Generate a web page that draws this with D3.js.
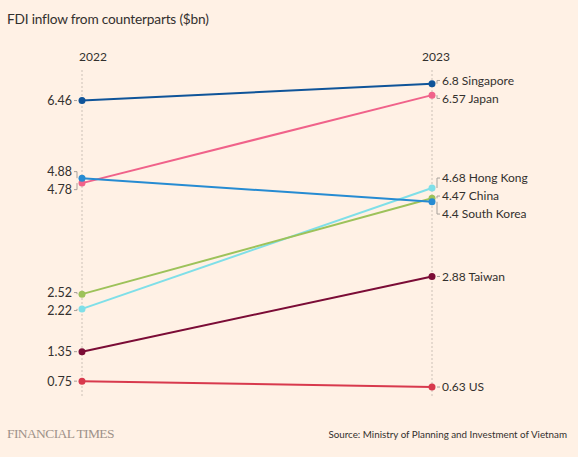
<!DOCTYPE html>
<html><head><meta charset="utf-8">
<script src="https://cdn.jsdelivr.net/npm/d3@7"></script>
<style>
html,body{margin:0;padding:0;background:#fff1e5;}
svg{display:block;font-family:"Lato","Noto Sans",sans-serif;}
</style></head>
<body><svg id="c" width="578" height="457"></svg>
<script>
const years = ["2022", "2023"];
const countries = ["Singapore", "Japan", "Hong Kong", "China", "South Korea", "Taiwan", "US"];
const values2022 = [6.46, 4.78, 2.22, 2.52, 4.88, 1.35, 0.75];
const values2023 = [6.8, 6.57, 4.68, 4.47, 4.4, 2.88, 0.63];
const colors = ["#0f5499", "#f0628a", "#7fdfe8", "#9dc25a", "#268bd2", "#7b0c36", "#d8394d"];

const svg = d3.select("#c");
const W = 578, H = 457;
svg.append("rect").attr("width", W).attr("height", H).attr("fill", "#fff1e5");

const x = d3.scalePoint().domain(years).range([82, 432]);
const y = d3.scaleLinear().domain([0, 7]).range([418, 74]);

const ink = "#33302e";
svg.append("text").attr("x", 7).attr("y", 24).attr("font-size", 13.7).attr("letter-spacing", "-0.2").attr("fill", ink)
  .text("FDI inflow from counterparts ($bn)");

svg.append("text").attr("x", x("2022") - 3).attr("y", 61).attr("font-size", 12).attr("fill", ink).text("2022");
svg.append("text").attr("x", x("2023") - 10).attr("y", 61).attr("font-size", 12).attr("fill", ink).text("2023");

years.forEach(yr => {
  svg.append("line").attr("x1", x(yr)).attr("x2", x(yr)).attr("y1", 70).attr("y2", 396)
    .attr("stroke", "#ccc1b7").attr("stroke-width", 1).attr("stroke-dasharray", "2,2");
});

const data = countries.map((c, i) => ({c, v0: values2022[i], v1: values2023[i], col: colors[i]}));

data.forEach(d => {
  svg.append("line").attr("x1", x("2022")).attr("y1", y(d.v0)).attr("x2", x("2023")).attr("y2", y(d.v1))
    .attr("stroke", d.col).attr("stroke-width", 2);
});
data.forEach(d => {
  svg.append("circle").attr("cx", x("2022")).attr("cy", y(d.v0)).attr("r", 3.5).attr("fill", d.col);
  svg.append("circle").attr("cx", x("2023")).attr("cy", y(d.v1)).attr("r", 3.5).attr("fill", d.col);
});

function dodge(items, gap) {
  items.sort((a, b) => a.py - b.py);
  let groups = items.map(it => ({members: [it]}));
  const place = g => {
    const mean = d3.mean(g.members, m => m.py);
    const n = g.members.length;
    g.members.forEach((m, k) => m.ly = mean + (k - (n - 1) / 2) * gap);
  };
  groups.forEach(place);
  let changed = true;
  while (changed) {
    changed = false;
    for (let i = 0; i < groups.length - 1; i++) {
      const a = groups[i], b = groups[i + 1];
      if (b.members[0].ly - a.members[a.members.length - 1].ly < gap) {
        a.members = a.members.concat(b.members);
        groups.splice(i + 1, 1);
        place(a);
        changed = true;
        break;
      }
    }
  }
  return items;
}

const left = dodge(data.map(d => ({py: y(d.v0), text: String(d.v0), d})), 18);
const right = dodge(data.map(d => ({py: y(d.v1), text: d.v1 + " " + d.c, d})), 18);

const connCol = "#a7a19b";
left.forEach(l => {
  const px = x("2022");
  svg.append("path").attr("d", `M${px - 5},${l.py}V${l.ly}H${px - 8}`)
    .attr("fill", "none").attr("stroke", connCol).attr("stroke-width", 1);
  svg.append("text").attr("x", px - 10).attr("y", l.ly).attr("dy", "0.35em")
    .attr("text-anchor", "end").attr("font-size", 12.5).attr("fill", ink).text(l.text);
});
right.forEach(l => {
  const px = x("2023");
  svg.append("path").attr("d", `M${px + 5},${l.py}V${l.ly}H${px + 8}`)
    .attr("fill", "none").attr("stroke", connCol).attr("stroke-width", 1);
  svg.append("text").attr("x", px + 10).attr("y", l.ly).attr("dy", "0.35em")
    .attr("font-size", 12).attr("fill", ink).text(l.text);
});

svg.append("text").attr("x", 7).attr("y", 438).attr("font-family", "'Liberation Serif','DejaVu Serif',serif")
  .attr("font-size", 13.5).attr("fill", "#9e928a").attr("letter-spacing", "-0.6").text("FINANCIAL TIMES");
svg.append("text").attr("x", 567).attr("y", 438).attr("text-anchor", "end")
  .attr("font-size", 9.8).attr("fill", ink).text("Source: Ministry of Planning and Investment of Vietnam");
</script></body></html>
